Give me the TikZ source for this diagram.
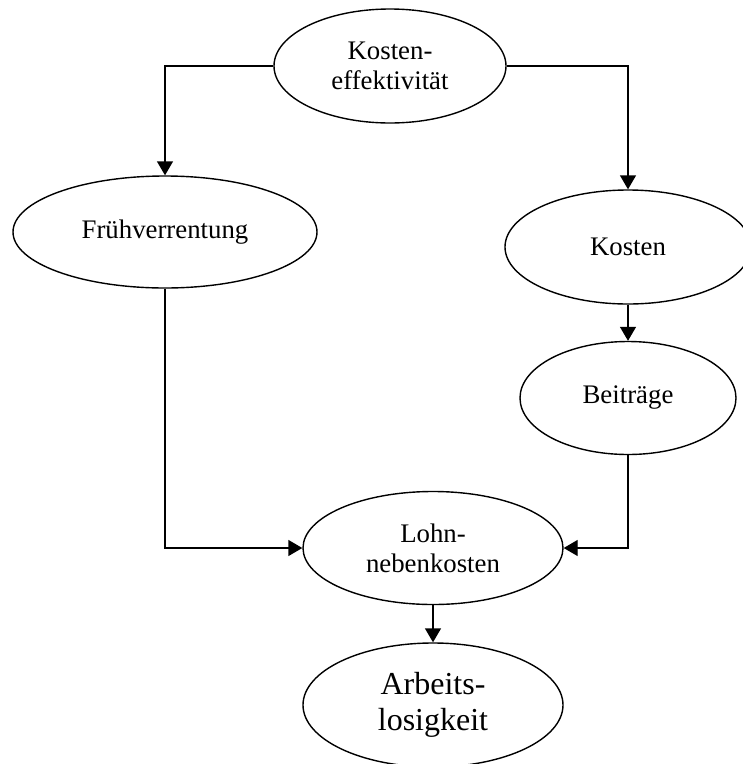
\documentclass[tikz,border=0pt]{standalone}
\usepackage{fontspec}
\setmainfont{Liberation Serif}
\usetikzlibrary{shapes.geometric,arrows.meta}

\tikzset{
  bubble/.style={draw, ellipse, line width=1.4pt, inner sep=0pt, align=center,
                 font=\fontsize{26.8}{30}\selectfont},
  flow/.style={line width=1.4pt, -{Triangle[length=14pt,width=16pt]}}
}

\begin{document}
\begin{tikzpicture}[x=1pt, y=-1pt]
  \useasboundingbox (0,0) rectangle (743,764);
  \clip (0,0) rectangle (743,764);

  % causes and effects
  \node[bubble, minimum width=232pt, minimum height=114pt] (ke) at (390,66) {Kosten-\\effektivität};
  \node[bubble, minimum width=304pt, minimum height=112pt] (fr) at (165,232) {Frühverrentung};
  \node[bubble, minimum width=246pt, minimum height=114pt] (ko) at (628,247) {Kosten};
  \node[bubble, minimum width=216pt, minimum height=113pt] (be) at (628,398) {Beiträge};
  \node[bubble, minimum width=260pt, minimum height=113pt] (lo) at (433,548) {Lohn-\\nebenkosten};
  \node[bubble, minimum width=260pt, minimum height=124pt,
        font=\fontsize{32}{36.5}\selectfont] (ar) at (433,705) {Arbeits-\\losigkeit};

  % links
  \draw[flow] (ke.west) -| (fr.north);
  \draw[flow] (ke.east) -| (ko.north);
  \draw[flow] (ko.south) -- (be.north);
  \draw[flow] (fr.south) |- (lo.west);
  \draw[flow] (be.south) |- (lo.east);
  \draw[flow] (lo.south) -- (ar.north);
\end{tikzpicture}
\end{document}
